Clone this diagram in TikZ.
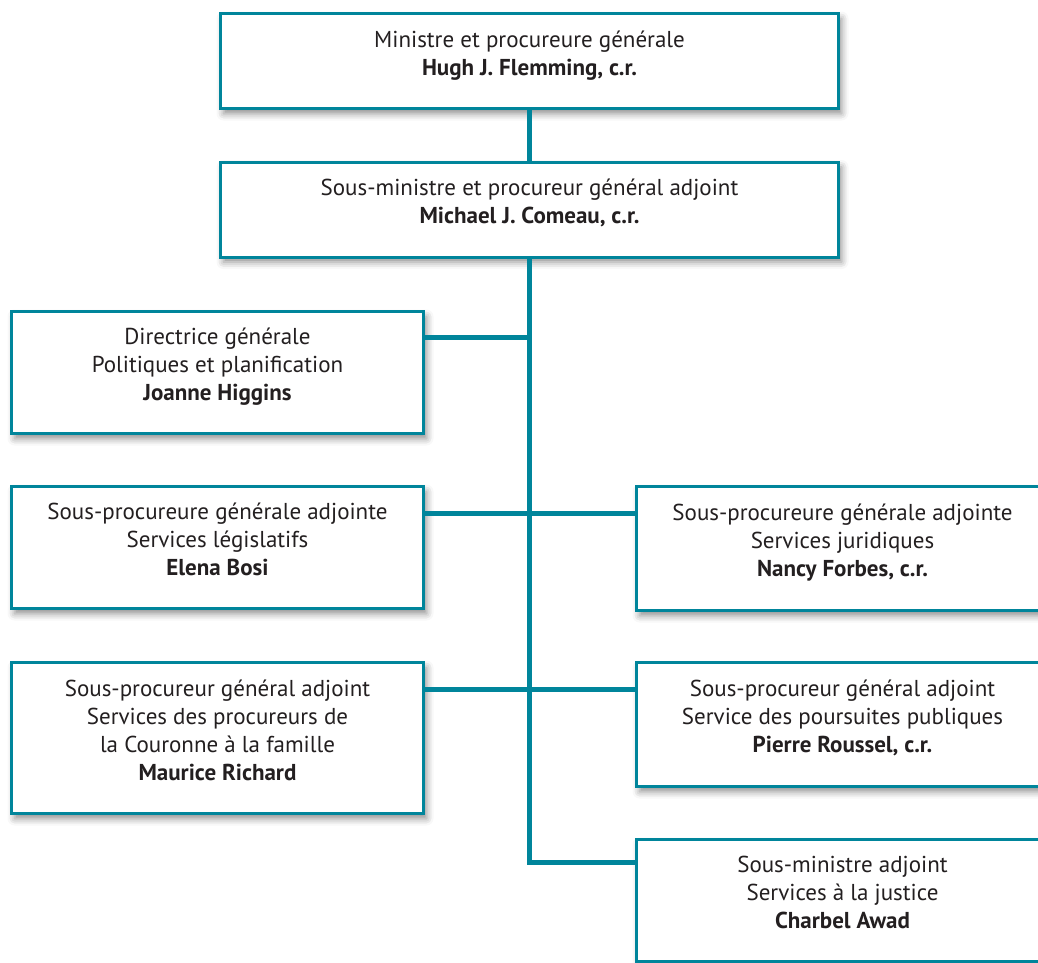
\documentclass[tikz,border=0pt]{standalone}
\usepackage{fontspec}
\setmainfont{PT Sans}
\usetikzlibrary{positioning,shadows.blur}
\definecolor{orgteal}{RGB}{0,133,155}
\definecolor{textgray}{RGB}{35,31,32}
\begin{document}
\begin{tikzpicture}[x=1pt, y=-1pt, font=\fontsize{23}{28}\selectfont,
    box/.style={draw=orgteal, line width=3pt, fill=white, align=center, text=textgray,
      text depth=16pt, inner sep=0pt,
      blur shadow={shadow xshift=3pt, shadow yshift=-5pt, shadow blur radius=7pt, shadow opacity=45}},
    wide box/.style={box, minimum width=618pt, minimum height=95pt},
    side box/.style={box, minimum width=412pt, minimum height=122pt},
    link/.style={draw=orgteal, line width=5pt}]
  \useasboundingbox (0,0) rectangle (1038,962);
  \clip (0,0) rectangle (1038,962);

  % top of the chart
  \node[wide box] (minister) at (529.5,61) {Ministre et procureure générale\\\textbf{Hugh J. Flemming, c.r.}};
  \node[wide box] (deputy) at (529.5,209.5) {Sous-ministre et procureur général adjoint\\\textbf{Michael J. Comeau, c.r.}};

  % left column
  \node[side box] (higgins) at (217.5,372.5) {Directrice générale\\Politiques et planification\\\textbf{Joanne Higgins}};
  \node[side box] (bosi) at (217.5,547.5) {Sous-procureure générale adjointe\\Services législatifs\\\textbf{Elena Bosi}};
  \node[side box, minimum height=151pt] (richard) at (217.5,738) {Sous-procureur général adjoint\\Services des procureurs de\\la Couronne à la famille\\\textbf{Maurice Richard}};

  % right column
  \node[side box, minimum height=124pt] (forbes) at (842.5,548.5) {Sous-procureure générale adjointe\\Services juridiques\\\textbf{Nancy Forbes, c.r.}};
  \node[side box, minimum height=124pt] (roussel) at (842.5,724.5) {Sous-procureur général adjoint\\Service des poursuites publiques\\\textbf{Pierre Roussel, c.r.}};
  \node[side box] (awad) at (842.5,900.5) {Sous-ministre adjoint\\Services à la justice\\\textbf{Charbel Awad}};

  % attachment points
  \coordinate (higgins in) at ([yshift=-27pt]higgins.north east);
  \coordinate (bosi in) at ([yshift=-28pt]bosi.north east);
  \coordinate (richard in) at ([yshift=-28pt]richard.north east);
  \coordinate (forbes in) at ([yshift=-28pt]forbes.north west);
  \coordinate (roussel in) at ([yshift=-28pt]roussel.north west);
  \coordinate (awad in) at ([yshift=-24pt]awad.north west);

  \path[link] (minister) -- (deputy);
  \path[link] (deputy.south) |- (awad in);
  \path[link] (higgins in) -- (higgins in -| deputy.south);
  \path[link] (bosi in) -- (forbes in);
  \path[link] (richard in) -- (roussel in);
\end{tikzpicture}
\end{document}
